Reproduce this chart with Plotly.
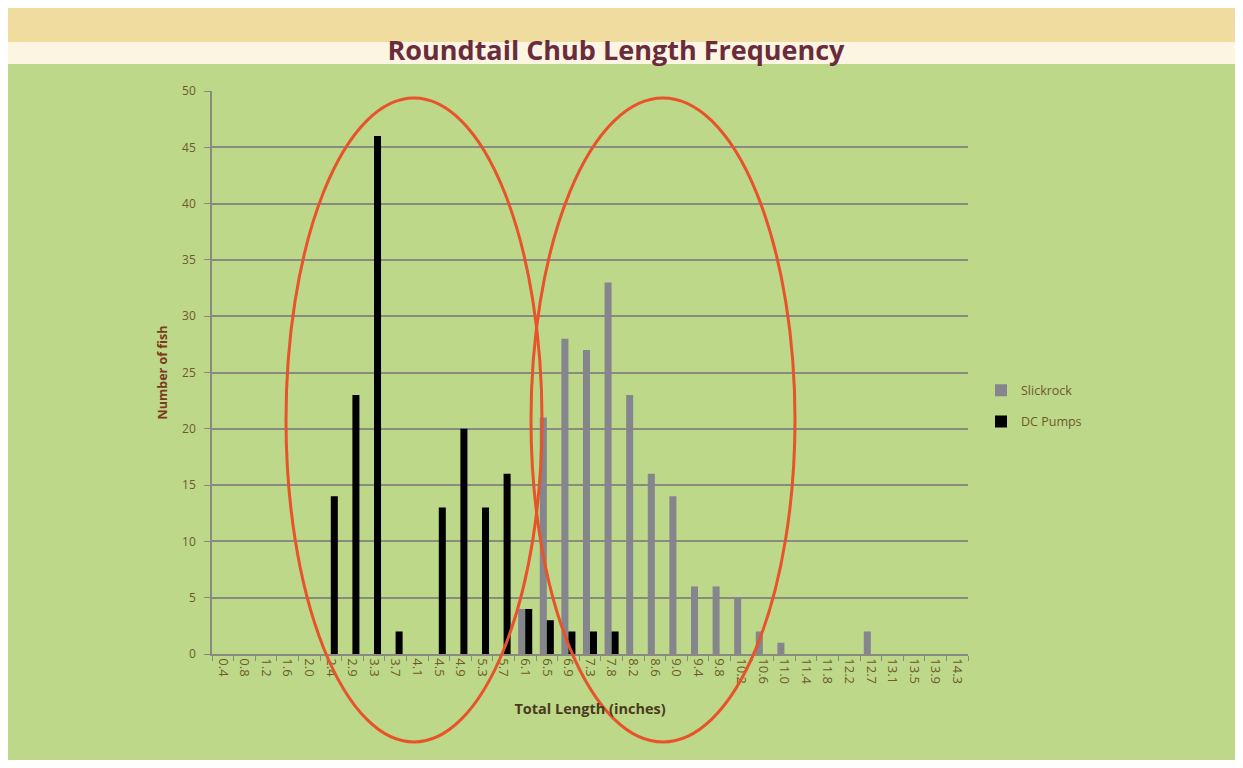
import plotly.graph_objects as go

categories = ["0.4", "0.8", "1.2", "1.6", "2.0", "2.4", "2.9", "3.3", "3.7", "4.1",
              "4.5", "4.9", "5.3", "5.7", "6.1", "6.5", "6.9", "7.3", "7.8", "8.2",
              "8.6", "9.0", "9.4", "9.8", "10.2", "10.6", "11.0", "11.4", "11.8", "12.2",
              "12.7", "13.1", "13.5", "13.9", "14.3"]

slickrock = [0, 0, 0, 0, 0, 0, 0, 0, 0, 0,
             0, 0, 0, 0, 4, 21, 28, 27, 33, 23,
             16, 14, 6, 6, 5, 2, 1, 0, 0, 0,
             2, 0, 0, 0, 0]

dc_pumps = [0, 0, 0, 0, 0, 14, 23, 46, 2, 0,
            13, 20, 13, 16, 4, 3, 2, 2, 2, 0,
            0, 0, 0, 0, 0, 0, 0, 0, 0, 0,
            0, 0, 0, 0, 0]

y_ticks = [0, 5, 10, 15, 20, 25, 30, 35, 40, 45, 50]

# page body has an 8px margin; work in reference-pixel coordinates and shift
OFF = 8
W, H = 1243 - 2 * OFF, 768 - 2 * OFF
L, R, T, B = 212 - OFF, 968 - OFF, 91 - OFF, 654 - OFF
pw, ph = R - L, B - T


def px(x):
    return (x - OFF - L) / pw


def py(y):
    return (B - (y - OFF)) / ph


fig = go.Figure()
fig.add_trace(go.Bar(x=categories, y=slickrock, name="Slickrock", legendgroup="s",
                     marker=dict(color="#85858d", line=dict(width=0))))
fig.add_trace(go.Bar(x=categories, y=dc_pumps, name="DC Pumps", legendgroup="d",
                     marker=dict(color="#000000", line=dict(width=0))))

shapes = [
    dict(type="rect", xref="paper", yref="paper", x0=px(0), x1=px(1260), y0=py(42), y1=py(0),
         fillcolor="#f1dca0", line=dict(width=0), layer="below"),
    dict(type="rect", xref="paper", yref="paper", x0=px(0), x1=px(1260), y0=py(64), y1=py(42),
         fillcolor="#fbf5e2", line=dict(width=0), layer="below"),
    dict(type="circle", xref="paper", yref="paper", x0=px(286), x1=px(542), y0=py(742), y1=py(98),
         line=dict(color="#e8532b", width=3), layer="above"),
    dict(type="circle", xref="paper", yref="paper", x0=px(531), x1=px(795), y0=py(742), y1=py(98),
         line=dict(color="#e8532b", width=3), layer="above"),
]

FONT = "Open Sans, Lato, sans-serif"

fig.update_layout(
    width=W, height=H,
    margin=dict(l=L, r=W - R, t=T, b=H - B, pad=0),
    paper_bgcolor="#bdd889",
    plot_bgcolor="rgba(0,0,0,0)",
    barmode="group",
    bargap=0.35,
    bargroupgap=0,
    font=dict(family=FONT, color="#6e5a2c"),
    title=dict(text="<b>Roundtail Chub Length Frequency</b>", x=(616 - OFF) / W, xref="container",
               xanchor="center", y=1 - (51 - OFF) / H, yref="container", yanchor="middle",
               font=dict(size=27, color="#6a2c3c", family=FONT)),
    legend=dict(x=px(981), y=py(406), xanchor="left", yanchor="middle",
                font=dict(size=12.5, color="#6e5a2c", family=FONT), bgcolor="rgba(0,0,0,0)",
                itemwidth=30, tracegroupgap=12),
    shapes=shapes,
    showlegend=True,
)

fig.update_xaxes(
    type="category",
    tickangle=90,
    tickfont=dict(size=13, color="#6e5a2c", family=FONT),
    showline=True, linecolor="#8a8a80", linewidth=1.5,
    ticks="outside", ticklen=5, tickcolor="#8a8a80", tickson="boundaries",
    showgrid=False,
    title=dict(text="<b>Total Length (inches)</b>", font=dict(size=14.5, color="#4a3a20", family=FONT),
               standoff=20),
)

fig.update_yaxes(
    range=[0, 50],
    tickvals=y_ticks,
    tickfont=dict(size=12, color="#6e5a2c", family=FONT),
    showline=True, linecolor="#8a8a80", linewidth=1.5,
    ticks="outside", ticklen=6, tickcolor="#8a8a80",
    showgrid=True, gridcolor="#8a8a80", gridwidth=1.5,
    zeroline=False,
    ticklabelstandoff=6,
    title=dict(text="<b>Number of fish</b>", font=dict(size=12.5, color="#7a3a22", family=FONT), standoff=12),
)

fig.write_html("out.html")
